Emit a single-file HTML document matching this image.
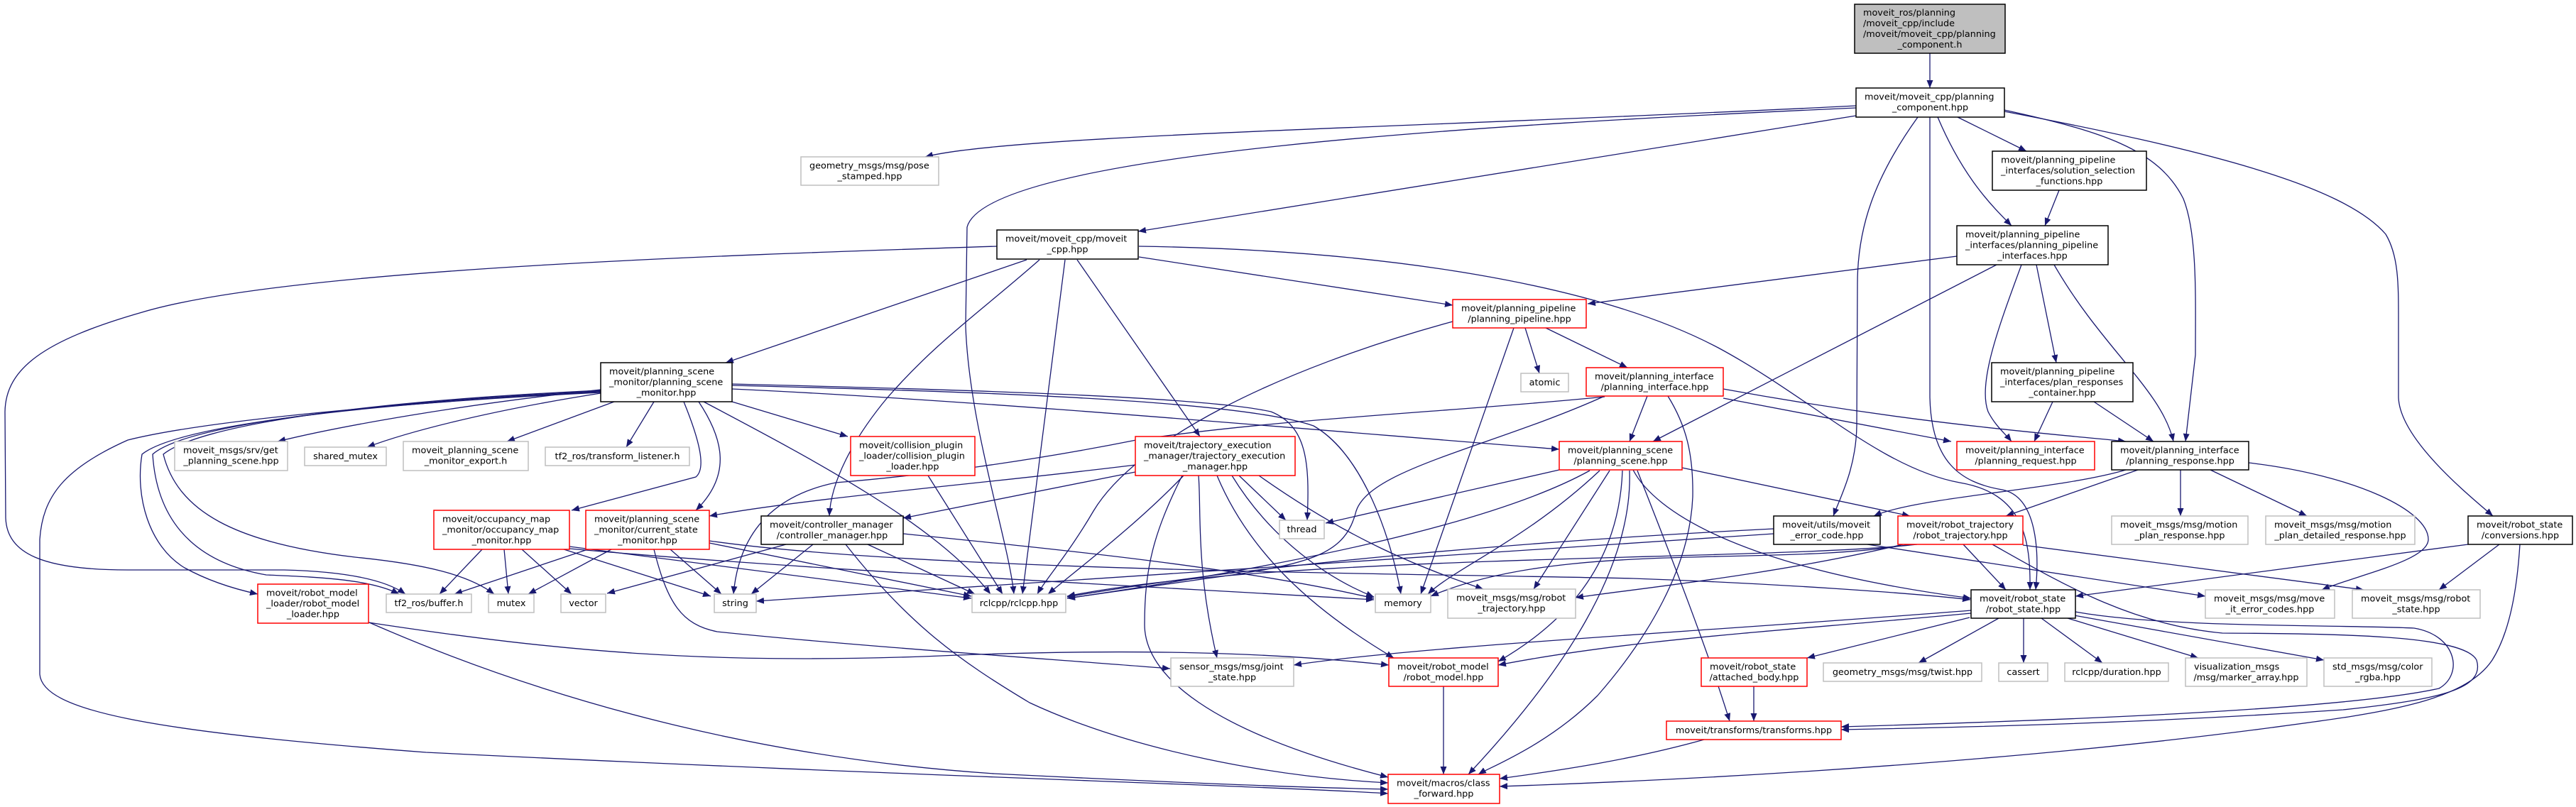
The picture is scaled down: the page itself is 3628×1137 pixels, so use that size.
<!DOCTYPE html>
<html><head><meta charset="utf-8"><style>
html,body{margin:0;padding:0;background:#fff;}
svg{display:block;}
.e{fill:none;stroke:#191970;stroke-width:1.3;marker-end:url(#a);}
rect.k{fill:#fff;stroke:#000;stroke-width:1.5;}
rect.r{fill:#fff;stroke:#ff0000;stroke-width:1.5;}
rect.g{fill:#fff;stroke:#bfbfbf;stroke-width:1.5;}
text{font-family:"DejaVu Sans","Liberation Sans",sans-serif;font-size:12.8px;fill:#000;}
.m{text-anchor:middle;}
</style></head><body>
<svg width="3628" height="1137" viewBox="0 0 3628 1137" xmlns="http://www.w3.org/2000/svg">
<defs><marker id="a" markerUnits="userSpaceOnUse" markerWidth="12" markerHeight="9" refX="11" refY="4.5" orient="auto"><path d="M0,0 L11,4.5 L0,9 z" fill="#191970"/></marker></defs>
<rect width="3628" height="1137" fill="#fff"/>
<g>
<path class="e" d="M2718,75 L2718,124"/>
<path class="e" d="M2614,149 C2000,180 1420,190 1303,221"/>
<path class="e" d="M2614,163 L1603,326"/>
<path class="e" d="M2614,152 C2100,175 1390,215 1362,320 L1360,460 C1365,600 1420,760 1428,837"/>
<path class="e" d="M2729,165 C2765,250 2805,290 2833,318"/>
<path class="e" d="M2757,165 L2854,213"/>
<path class="e" d="M2701,165 C2640,250 2616,320 2616,400 L2615,600 C2614,660 2592,700 2582,727"/>
<path class="e" d="M2718,165 L2718,560 C2720,650 2760,680 2820,690 C2870,700 2872,780 2867,831"/>
<path class="e" d="M2823,155 C2960,185 3040,210 3075,280 C3095,330 3092,420 3092,500 L3078,622"/>
<path class="e" d="M2823,157 C3100,210 3300,260 3360,330 C3378,360 3378,400 3378,450 L3378,560 C3380,620 3480,700 3511,727"/>
<path class="e" d="M2900,268 L2880,318"/>
<path class="e" d="M2756,361 L2236,428"/>
<path class="e" d="M2812,373 L2328,622"/>
<path class="e" d="M2847,373 C2815,460 2785,540 2800,580 C2810,600 2825,612 2833,622"/>
<path class="e" d="M2868,373 L2896,511"/>
<path class="e" d="M2893,373 C2960,490 3045,550 3061,622"/>
<path class="e" d="M2891,566 L2865,622"/>
<path class="e" d="M2949,566 L3033,622"/>
<path class="e" d="M1404,347 C1000,360 400,380 200,440 C60,480 8,520 7,580 L8,730 C10,780 60,803 180,803 L400,803 C480,805 540,815 571,837"/>
<path class="e" d="M1446,366 L1022,511"/>
<path class="e" d="M1464,366 C1380,440 1320,480 1250,560 C1200,620 1170,680 1168,727"/>
<path class="e" d="M1500,366 L1440,837"/>
<path class="e" d="M1517,366 L1690,615"/>
<path class="e" d="M1604,362 L2046,430"/>
<path class="e" d="M1604,347 C1950,352 2250,400 2420,490 C2550,560 2650,660 2760,680 C2850,695 2860,760 2859,831"/>
<path class="e" d="M2148,462 L2168,526"/>
<path class="e" d="M2177,462 L2292,518"/>
<path class="e" d="M2132,462 L2001,837"/>
<path class="e" d="M2046,453 C1800,520 1600,620 1540,720 C1505,780 1470,820 1461,837"/>
<path class="e" d="M2320,558 L2295,622"/>
<path class="e" d="M2260,558 C2100,630 1930,660 1910,720 C1895,780 1850,795 1700,815 L1503,843"/>
<path class="e" d="M2349,558 C2375,600 2385,640 2384,700 C2380,800 2320,900 2250,980 C2180,1050 2100,1080 2082,1091"/>
<path class="e" d="M2427,561 L2748,622"/>
<path class="e" d="M2427,548 C2700,598 2900,612 2994,622"/>
<path class="e" d="M2260,559 C2050,580 1800,590 1600,620 C1450,650 1300,670 1177,680 C1080,700 1040,760 1033,837"/>
<path class="e" d="M846,549 C650,570 480,600 391,622"/>
<path class="e" d="M846,554 C680,580 570,610 517,630"/>
<path class="e" d="M865,566 L714,622"/>
<path class="e" d="M921,566 L882,630"/>
<path class="e" d="M963,566 C985,620 995,660 980,672 L805,719"/>
<path class="e" d="M984,566 C1020,620 1030,670 980,719"/>
<path class="e" d="M1031,566 L1194,615"/>
<path class="e" d="M991,566 C1150,650 1320,740 1395,837"/>
<path class="e" d="M1031,548 C1400,565 1900,610 2196,633"/>
<path class="e" d="M1031,541 C1400,550 1700,560 1790,580 C1840,600 1845,650 1841,733"/>
<path class="e" d="M1031,543 C1400,552 1750,565 1850,600 C1920,640 1960,760 1973,837"/>
<path class="e" d="M846,553 C600,565 300,590 180,620 C90,660 60,700 56,760 L56,950 C60,1000 200,1030 600,1060 C1200,1090 1800,1108 1955,1118"/>
<path class="e" d="M846,552 C500,570 250,600 200,640 C190,700 210,770 260,800 C300,822 340,832 363,837"/>
<path class="e" d="M846,551 C500,568 260,600 215,640 C220,720 260,790 375,810 C440,813 520,815 562,837"/>
<path class="e" d="M846,550 C500,566 280,600 230,640 C250,720 330,765 500,785 C600,795 660,810 696,837"/>
<path class="e" d="M679,774 L619,837"/>
<path class="e" d="M710,774 L716,837"/>
<path class="e" d="M735,774 L805,837"/>
<path class="e" d="M791,773 L1001,840"/>
<path class="e" d="M802,770 L1368,843"/>
<path class="e" d="M802,773 C1100,800 1500,820 1935,845"/>
<path class="e" d="M828,774 L640,837"/>
<path class="e" d="M861,774 L744,837"/>
<path class="e" d="M944,774 L1016,837"/>
<path class="e" d="M921,774 C940,850 960,880 1010,890 C1200,910 1500,930 1648,942"/>
<path class="e" d="M999,765 L1368,840"/>
<path class="e" d="M999,762 C1300,805 2000,808 2300,815 C2500,822 2700,836 2775,845"/>
<path class="e" d="M1107,767 L855,836"/>
<path class="e" d="M1145,767 L1058,837"/>
<path class="e" d="M1191,767 C1280,880 1350,930 1450,990 C1600,1060 1800,1095 1955,1103"/>
<path class="e" d="M1222,767 L1373,837"/>
<path class="e" d="M1272,752 C1500,775 1750,800 1935,843"/>
<path class="e" d="M1307,670 L1412,837"/>
<path class="e" d="M1599,655 C1400,680 1150,700 999,727"/>
<path class="e" d="M1599,665 L1272,730"/>
<path class="e" d="M1667,670 C1600,740 1520,800 1476,837"/>
<path class="e" d="M1688,670 C1692,720 1684,800 1714,927"/>
<path class="e" d="M1665,670 C1625,750 1612,800 1612,880 C1612,950 1700,1030 1955,1095"/>
<path class="e" d="M1714,670 C1760,780 1850,860 1963,927"/>
<path class="e" d="M1735,670 C1790,760 1870,815 1935,841"/>
<path class="e" d="M1745,670 L1811,733"/>
<path class="e" d="M1773,670 C1900,760 2000,800 2089,830"/>
<path class="e" d="M2196,662 L1867,737"/>
<path class="e" d="M2239,663 C2100,740 1800,800 1503,843"/>
<path class="e" d="M2253,663 C2150,760 2050,800 2011,837"/>
<path class="e" d="M2267,663 L2160,830"/>
<path class="e" d="M2285,663 C2280,800 2200,880 2110,932"/>
<path class="e" d="M2295,663 C2300,800 2200,950 2068,1091"/>
<path class="e" d="M2306,663 C2340,750 2400,900 2436,1016"/>
<path class="e" d="M2300,662 C2330,720 2450,800 2776,843"/>
<path class="e" d="M2369,659 L2690,727"/>
<path class="e" d="M2498,752 L1065,847"/>
<path class="e" d="M2498,745 C2200,760 1800,790 1503,841"/>
<path class="e" d="M2630,767 L3106,840"/>
<path class="e" d="M2765,767 L2825,831"/>
<path class="e" d="M2700,767 C2500,790 1800,780 1503,840"/>
<path class="e" d="M2690,767 C2500,800 2200,760 2015,840"/>
<path class="e" d="M2680,767 C2500,810 2300,830 2219,842"/>
<path class="e" d="M2849,768 L3329,831"/>
<path class="e" d="M2806,767 C2900,820 3000,880 3130,892 C3300,893 3470,895 3488,930 C3500,970 3440,985 3300,1000 C3000,1020 2750,1025 2593,1028"/>
<path class="e" d="M2774,870 L2545,927"/>
<path class="e" d="M2815,871 L2702,934"/>
<path class="e" d="M2850,871 L2850,934"/>
<path class="e" d="M2875,871 L2961,934"/>
<path class="e" d="M2912,871 L3096,927"/>
<path class="e" d="M2921,867 L3273,930"/>
<path class="e" d="M2923,862 C3050,885 3300,880 3400,885 C3460,895 3470,950 3435,970 C3300,1000 2900,1015 2593,1024"/>
<path class="e" d="M2776,860 C2400,890 2000,910 1822,937"/>
<path class="e" d="M2776,864 C2500,890 2300,900 2110,937"/>
<path class="e" d="M2470,967 L2470,1016"/>
<path class="e" d="M2400,1042 C2300,1070 2200,1085 2112,1097"/>
<path class="e" d="M2033,967 L2033,1091"/>
<path class="e" d="M519,877 C800,920 1000,935 1300,925 C1600,912 1800,920 1956,937"/>
<path class="e" d="M520,877 C800,1000 1100,1070 1400,1090 C1700,1105 1850,1110 1955,1112"/>
<path class="e" d="M3476,767 L2923,840"/>
<path class="e" d="M3520,767 L3435,831"/>
<path class="e" d="M3549,767 C3545,830 3535,890 3510,930 C3470,990 3350,1005 3200,1025 C2900,1065 2500,1095 2112,1108"/>
<path class="e" d="M3071,662 L3071,727"/>
<path class="e" d="M3113,662 L3249,727"/>
<path class="e" d="M3011,662 L2825,727"/>
<path class="e" d="M2994,662 C2900,690 2700,700 2639,727"/>
<path class="e" d="M3167,652 C3320,670 3420,720 3420,760 C3420,790 3320,810 3270,831"/>
</g>
<g>
<rect x="2612" y="6" width="212" height="69" fill="#bfbfbf" stroke="#000" stroke-width="1.5"/>
<text x="2624" y="22">moveit_ros/planning</text><text x="2624" y="37">/moveit_cpp/include</text><text x="2624" y="52">/moveit/moveit_cpp/planning</text><text class="m" x="2718" y="67">_component.h</text>

<rect class="k" x="2614" y="124" width="209" height="41"/>
<text x="2626" y="140.5">moveit/moveit_cpp/planning</text><text class="m" x="2718.5" y="155.5">_component.hpp</text>

<rect class="g" x="1128" y="221" width="194" height="40"/>
<text x="1140" y="237.5">geometry_msgs/msg/pose</text><text class="m" x="1225" y="252.5">_stamped.hpp</text>

<rect class="k" x="2806" y="213" width="217" height="55"/>
<text x="2818" y="229.5">moveit/planning_pipeline</text><text x="2818" y="244.5">_interfaces/solution_selection</text><text class="m" x="2914.5" y="259.5">_functions.hpp</text>

<rect class="k" x="1404" y="324" width="199" height="41"/>
<text x="1416" y="340.5">moveit/moveit_cpp/moveit</text><text class="m" x="1503.5" y="355.5">_cpp.hpp</text>

<rect class="k" x="2756" y="318" width="213" height="55"/>
<text x="2768" y="334.5">moveit/planning_pipeline</text><text x="2768" y="349.5">_interfaces/planning_pipeline</text><text class="m" x="2862.5" y="364.5">_interfaces.hpp</text>

<rect class="r" x="2046" y="422" width="188" height="40"/>
<text x="2058" y="438.5">moveit/planning_pipeline</text><text class="m" x="2140" y="453.5">/planning_pipeline.hpp</text>

<rect class="k" x="846" y="511" width="185" height="55"/>
<text x="858" y="527.5">moveit/planning_scene</text><text x="858" y="542.5">_monitor/planning_scene</text><text class="m" x="938.5" y="557.5">_monitor.hpp</text>

<rect class="g" x="2142" y="526" width="67" height="26"/>
<text class="m" x="2175.5" y="543">atomic</text>

<rect class="r" x="2234" y="518" width="193" height="40"/>
<text x="2246" y="534.5">moveit/planning_interface</text><text class="m" x="2330.5" y="549.5">/planning_interface.hpp</text>

<rect class="k" x="2805" y="511" width="199" height="55"/>
<text x="2817" y="527.5">moveit/planning_pipeline</text><text x="2817" y="542.5">_interfaces/plan_responses</text><text class="m" x="2904.5" y="557.5">_container.hpp</text>

<rect class="g" x="246" y="622" width="159" height="41"/>
<text x="258" y="638.5">moveit_msgs/srv/get</text><text class="m" x="325.5" y="653.5">_planning_scene.hpp</text>

<rect class="g" x="429" y="630" width="115" height="26"/>
<text class="m" x="486.5" y="647">shared_mutex</text>

<rect class="g" x="568" y="622" width="176" height="41"/>
<text x="580" y="638.5">moveit_planning_scene</text><text class="m" x="656" y="653.5">_monitor_export.h</text>

<rect class="g" x="768" y="630" width="203" height="26"/>
<text class="m" x="869.5" y="647">tf2_ros/transform_listener.h</text>

<rect class="r" x="1198" y="615" width="175" height="55"/>
<text x="1210" y="631.5">moveit/collision_plugin</text><text x="1210" y="646.5">_loader/collision_plugin</text><text class="m" x="1285.5" y="661.5">_loader.hpp</text>

<rect class="r" x="1599" y="615" width="225" height="55"/>
<text x="1611" y="631.5">moveit/trajectory_execution</text><text x="1611" y="646.5">_manager/trajectory_execution</text><text class="m" x="1711.5" y="661.5">_manager.hpp</text>

<rect class="r" x="2196" y="622" width="173" height="40"/>
<text x="2208" y="638.5">moveit/planning_scene</text><text class="m" x="2282.5" y="653.5">/planning_scene.hpp</text>

<rect class="r" x="2756" y="622" width="194" height="40"/>
<text x="2768" y="638.5">moveit/planning_interface</text><text class="m" x="2853" y="653.5">/planning_request.hpp</text>

<rect class="k" x="2974" y="622" width="193" height="40"/>
<text x="2986" y="638.5">moveit/planning_interface</text><text class="m" x="3070.5" y="653.5">/planning_response.hpp</text>

<rect class="r" x="611" y="719" width="191" height="55"/>
<text x="623" y="735.5">moveit/occupancy_map</text><text x="623" y="750.5">_monitor/occupancy_map</text><text class="m" x="706.5" y="765.5">_monitor.hpp</text>

<rect class="r" x="825" y="719" width="174" height="55"/>
<text x="837" y="735.5">moveit/planning_scene</text><text x="837" y="750.5">_monitor/current_state</text><text class="m" x="912" y="765.5">_monitor.hpp</text>

<rect class="k" x="1072" y="727" width="200" height="40"/>
<text x="1084" y="743.5">moveit/controller_manager</text><text class="m" x="1172" y="758.5">/controller_manager.hpp</text>

<rect class="g" x="1802" y="733" width="63" height="26"/>
<text class="m" x="1833.5" y="750">thread</text>

<rect class="k" x="2498" y="727" width="150" height="40"/>
<text x="2510" y="743.5">moveit/utils/moveit</text><text class="m" x="2573" y="758.5">_error_code.hpp</text>

<rect class="r" x="2673" y="727" width="176" height="40"/>
<text x="2685" y="743.5">moveit/robot_trajectory</text><text class="m" x="2761" y="758.5">/robot_trajectory.hpp</text>

<rect class="g" x="2974" y="727" width="192" height="40"/>
<text x="2986" y="743.5">moveit_msgs/msg/motion</text><text class="m" x="3070" y="758.5">_plan_response.hpp</text>

<rect class="g" x="3191" y="727" width="210" height="40"/>
<text x="3203" y="743.5">moveit_msgs/msg/motion</text><text class="m" x="3296" y="758.5">_plan_detailed_response.hpp</text>

<rect class="k" x="3476" y="727" width="147" height="40"/>
<text x="3488" y="743.5">moveit/robot_state</text><text class="m" x="3549.5" y="758.5">/conversions.hpp</text>

<rect class="r" x="363" y="823" width="156" height="55"/>
<text x="375" y="839.5">moveit/robot_model</text><text x="375" y="854.5">_loader/robot_model</text><text class="m" x="441" y="869.5">_loader.hpp</text>

<rect class="g" x="544" y="837" width="120" height="26"/>
<text class="m" x="604" y="854">tf2_ros/buffer.h</text>

<rect class="g" x="688" y="837" width="64" height="26"/>
<text class="m" x="720" y="854">mutex</text>

<rect class="g" x="790" y="837" width="63" height="26"/>
<text class="m" x="821.5" y="854">vector</text>

<rect class="g" x="1006" y="837" width="59" height="26"/>
<text class="m" x="1035.5" y="854">string</text>

<rect class="g" x="1369" y="837" width="132" height="26"/>
<text class="m" x="1435" y="854">rclcpp/rclcpp.hpp</text>

<rect class="g" x="1937" y="837" width="78" height="26"/>
<text class="m" x="1976" y="854">memory</text>

<rect class="g" x="2039" y="830" width="180" height="41"/>
<text x="2051" y="846.5">moveit_msgs/msg/robot</text><text class="m" x="2129" y="861.5">_trajectory.hpp</text>

<rect class="k" x="2776" y="831" width="147" height="40"/>
<text x="2788" y="847.5">moveit/robot_state</text><text class="m" x="2849.5" y="862.5">/robot_state.hpp</text>

<rect class="g" x="3106" y="831" width="182" height="40"/>
<text x="3118" y="847.5">moveit_msgs/msg/move</text><text class="m" x="3197" y="862.5">_it_error_codes.hpp</text>

<rect class="g" x="3313" y="831" width="180" height="40"/>
<text x="3325" y="847.5">moveit_msgs/msg/robot</text><text class="m" x="3403" y="862.5">_state.hpp</text>

<rect class="g" x="1649" y="927" width="173" height="40"/>
<text x="1661" y="943.5">sensor_msgs/msg/joint</text><text class="m" x="1735.5" y="958.5">_state.hpp</text>

<rect class="r" x="1956" y="927" width="154" height="40"/>
<text x="1968" y="943.5">moveit/robot_model</text><text class="m" x="2033" y="958.5">/robot_model.hpp</text>

<rect class="r" x="2396" y="927" width="149" height="40"/>
<text x="2408" y="943.5">moveit/robot_state</text><text class="m" x="2470.5" y="958.5">/attached_body.hpp</text>

<rect class="g" x="2568" y="934" width="223" height="26"/>
<text class="m" x="2679.5" y="951">geometry_msgs/msg/twist.hpp</text>

<rect class="g" x="2815" y="934" width="69" height="26"/>
<text class="m" x="2849.5" y="951">cassert</text>

<rect class="g" x="2908" y="934" width="146" height="26"/>
<text class="m" x="2981" y="951">rclcpp/duration.hpp</text>

<rect class="g" x="3078" y="927" width="171" height="40"/>
<text x="3090" y="943.5">visualization_msgs</text><text class="m" x="3163.5" y="958.5">/msg/marker_array.hpp</text>

<rect class="g" x="3273" y="927" width="152" height="40"/>
<text x="3285" y="943.5">std_msgs/msg/color</text><text class="m" x="3349" y="958.5">_rgba.hpp</text>

<rect class="r" x="2347" y="1016" width="246" height="26"/>
<text class="m" x="2470" y="1033">moveit/transforms/transforms.hpp</text>

<rect class="r" x="1955" y="1091" width="157" height="41"/>
<text x="1967" y="1107.5">moveit/macros/class</text><text class="m" x="2033.5" y="1122.5">_forward.hpp</text>
</g>
</svg>
</body></html>
